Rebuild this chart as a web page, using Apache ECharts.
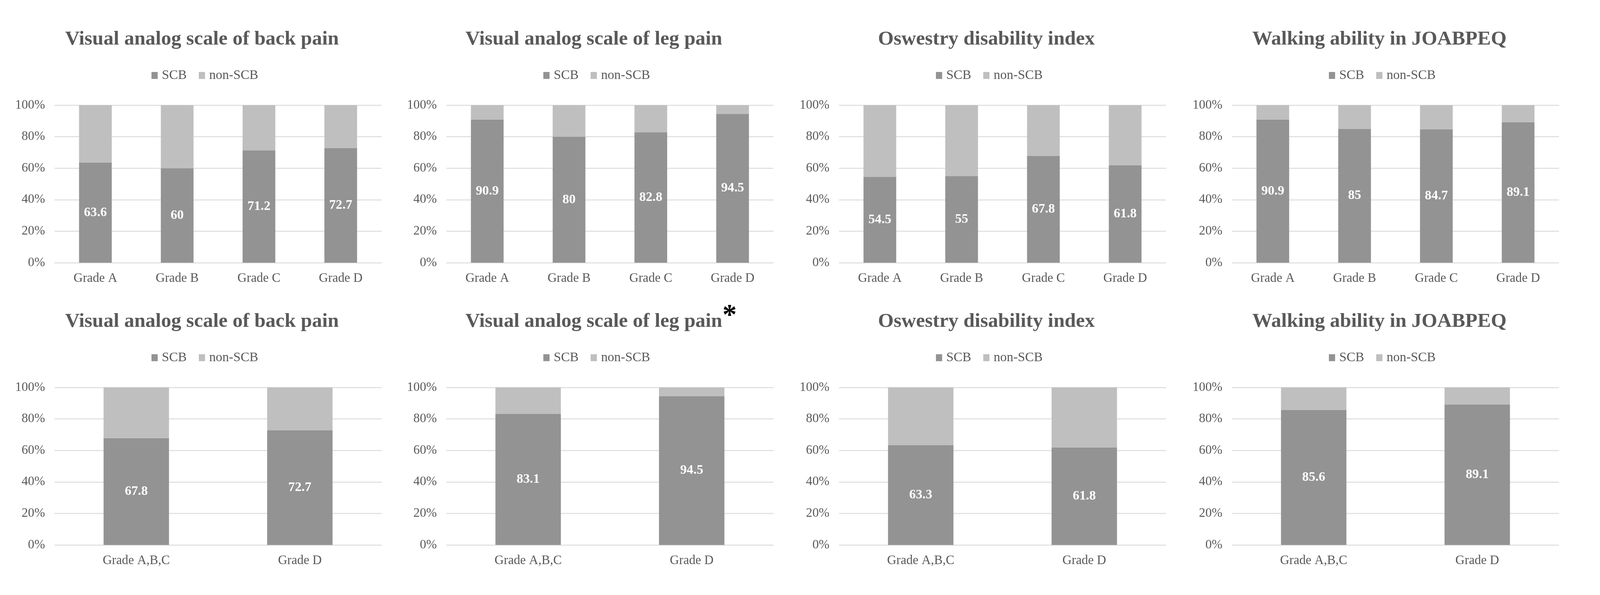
<!DOCTYPE html>
<html>
<head>
<meta charset="utf-8">
<script src="https://cdn.jsdelivr.net/npm/echarts@6/dist/echarts.min.js"></script>
<style>
html,body{margin:0;padding:0;background:#fff;overflow:hidden;}
#c{position:absolute;left:0;top:0;}
</style>
</head>
<body>
<div id="c"></div>
<script>
// ---- data ----
const chartTitles = ['Visual analog scale of back pain', 'Visual analog scale of leg pain', 'Oswestry disability index', 'Walking ability in JOABPEQ'];
const seriesNames = ['SCB', 'non-SCB'];
const categoriesTop = ['Grade A', 'Grade B', 'Grade C', 'Grade D'];
const categoriesBottom = ['Grade A,B,C', 'Grade D'];
const yTickLabels = ['0%', '20%', '40%', '60%', '80%', '100%'];
const significanceMark = '*';

const backPainTopSCB = [63.6, 60, 71.2, 72.7];
const backPainTopNon = [36.4, 40, 28.8, 27.3];
const legPainTopSCB = [90.9, 80, 82.8, 94.5];
const legPainTopNon = [9.1, 20, 17.2, 5.5];
const odiTopSCB = [54.5, 55, 67.8, 61.8];
const odiTopNon = [45.5, 45, 32.2, 38.2];
const walkTopSCB = [90.9, 85, 84.7, 89.1];
const walkTopNon = [9.1, 15, 15.3, 10.9];

const backPainBottomSCB = [67.8, 72.7];
const backPainBottomNon = [32.2, 27.3];
const legPainBottomSCB = [83.1, 94.5];
const legPainBottomNon = [16.9, 5.5];
const odiBottomSCB = [63.3, 61.8];
const odiBottomNon = [36.7, 38.2];
const walkBottomSCB = [85.6, 89.1];
const walkBottomNon = [14.4, 10.9];

// ---- layout / style (design space 4373 x 1522, scaled to the real viewport) ----
const W = window.innerWidth || 4373;
const H = window.innerHeight || 1522;
const sx = W / 4373, sy = H / 1522, sf = Math.min(sx, sy);
const X = v => v * sx, Y = v => v * sy, F = v => v * sf;

const FONT = "'Liberation Serif', 'Times New Roman', serif";
const TXT = '#595959';
const C_SCB = '#939393';
const C_NON = '#BFBFBF';
const gridLefts = [149, 1220, 2293, 3367];
const gridWidth = 894;
const gridTops = [269, 991];
const gridHeight = 403;
const titleY = [101, 823];
const legendY = [176, 898];

const panels = [
  {row: 0, col: 0, cats: categoriesTop, scb: backPainTopSCB, non: backPainTopNon},
  {row: 0, col: 1, cats: categoriesTop, scb: legPainTopSCB, non: legPainTopNon},
  {row: 0, col: 2, cats: categoriesTop, scb: odiTopSCB, non: odiTopNon},
  {row: 0, col: 3, cats: categoriesTop, scb: walkTopSCB, non: walkTopNon},
  {row: 1, col: 0, cats: categoriesBottom, scb: backPainBottomSCB, non: backPainBottomNon},
  {row: 1, col: 1, cats: categoriesBottom, scb: legPainBottomSCB, non: legPainBottomNon, star: true},
  {row: 1, col: 2, cats: categoriesBottom, scb: odiBottomSCB, non: odiBottomNon},
  {row: 1, col: 3, cats: categoriesBottom, scb: walkBottomSCB, non: walkBottomNon}
];

const option = {
  backgroundColor: '#fff',
  animation: false,
  title: [], legend: [], grid: [], xAxis: [], yAxis: [], series: []
};

panels.forEach((p, i) => {
  const gx = gridLefts[p.col];
  const gc = gx + gridWidth / 2;
  option.grid.push({left: X(gx), top: Y(gridTops[p.row]), width: X(gridWidth), height: Y(gridHeight), containLabel: false});
  option.title.push({
    text: chartTitles[p.col],
    left: X(gc - 44),
    top: Y(titleY[p.row]),
    textAlign: 'center',
    textVerticalAlign: 'middle',
    padding: 0,
    textStyle: {fontFamily: FONT, fontWeight: 'bold', fontSize: F(55), color: TXT}
  });
  if (p.star) {
    option.title.push({
      text: significanceMark,
      left: X(gc + 327),
      top: Y(titleY[p.row] - 13),
      textAlign: 'center',
      textVerticalAlign: 'middle',
      padding: 0,
      textStyle: {fontFamily: FONT, fontWeight: 'bold', fontSize: F(78), color: '#000'}
    });
  }
  option.legend.push({
    data: seriesNames,
    left: X(gc - 182),
    top: Y(legendY[p.row]),
    padding: 0,
    itemWidth: F(17),
    itemHeight: F(19),
    itemGap: F(33),
    icon: 'rect',
    textStyle: {fontFamily: FONT, fontSize: F(36), color: TXT, padding: [0, 0, 0, F(6)]}
  });
  option.xAxis.push({
    type: 'category', gridIndex: i, data: p.cats,
    axisLine: {show: false}, axisTick: {show: false},
    axisLabel: {fontFamily: FONT, fontSize: F(35), color: TXT, margin: Y(24)}
  });
  option.yAxis.push({
    type: 'value', gridIndex: i, min: 0, max: 100, interval: 20,
    axisLine: {show: false}, axisTick: {show: false},
    axisLabel: {fontFamily: FONT, fontSize: F(35), color: TXT, margin: X(26),
      formatter: v => yTickLabels[Math.round(v / 20)]},
    splitLine: {show: true, lineStyle: {color: '#E2E2E2', width: F(3)}}
  });
  option.series.push({
    name: 'SCB', type: 'bar', stack: 's' + i, xAxisIndex: i, yAxisIndex: i,
    data: p.scb, barWidth: '40%', itemStyle: {color: C_SCB},
    label: {show: true, position: 'inside', color: '#fff', fontFamily: FONT, fontWeight: 'bold', fontSize: F(36)}
  });
  option.series.push({
    name: 'non-SCB', type: 'bar', stack: 's' + i, xAxisIndex: i, yAxisIndex: i,
    data: p.non, barWidth: '40%', itemStyle: {color: C_NON}
  });
});

const el = document.getElementById('c');
el.style.width = W + 'px';
el.style.height = H + 'px';
const chart = echarts.init(el, null, {renderer: 'canvas'});
chart.setOption(option);
</script>
</body>
</html>
